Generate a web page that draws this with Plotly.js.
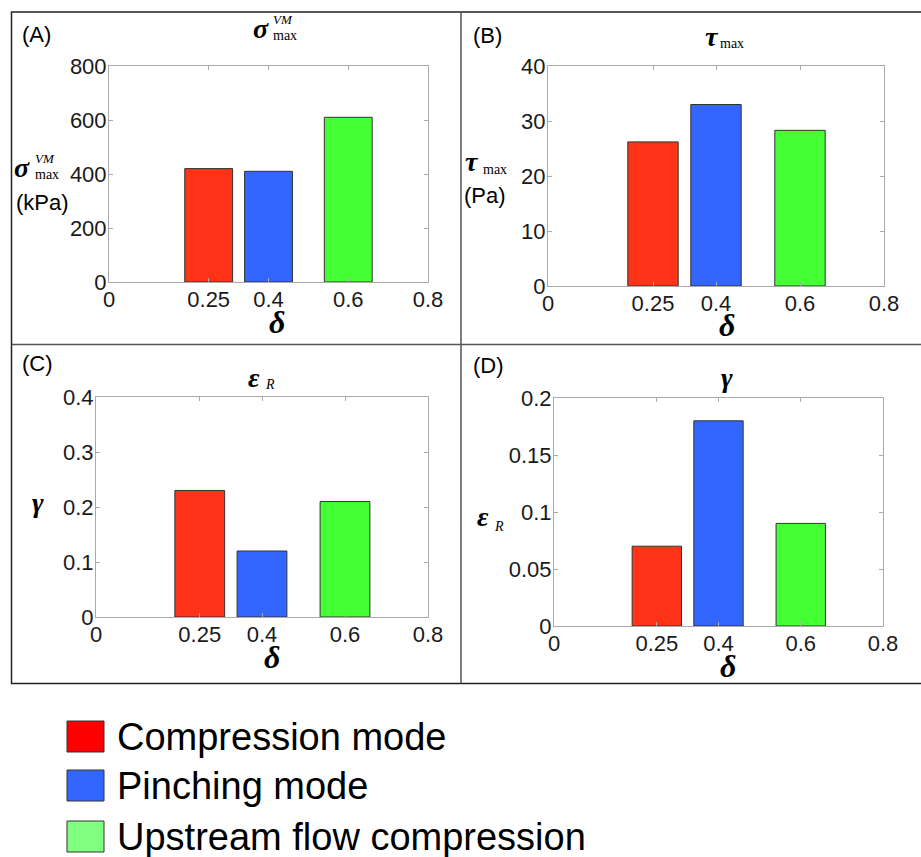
<!DOCTYPE html>
<html>
<head>
<meta charset="utf-8">
<script src="https://cdn.plot.ly/plotly-3.0.1.min.js"></script>
<style>html,body{margin:0;padding:0;background:#fff;}#chart{width:921px;height:857px;}</style>
</head>
<body>
<div id="chart"></div>
<script>
// ---- data ----
const deltaVals = [0.25, 0.4, 0.6];
const seriesNames = ['Compression mode', 'Pinching mode', 'Upstream flow compression'];
const sigmaVM = [420, 410, 610];      // panel A (kPa)
const tauMax = [26.2, 33.0, 28.3];    // panel B (Pa)
const panelC = [0.23, 0.12, 0.21];    // panel C
const panelD = [0.07, 0.18, 0.09];    // panel D
const xTickVals = [0, 0.25, 0.4, 0.6, 0.8];
const xTickText = ['0', '0.25', '0.4', '0.6', '0.8'];
const yTicksA = [0, 200, 400, 600, 800];
const yTicksB = [0, 10, 20, 30, 40];
const yTicksC = [0, 0.1, 0.2, 0.3, 0.4];
const yTicksD = [0, 0.05, 0.1, 0.15, 0.2];
const yTickTextD = ['0', '0.05', '0.1', '0.15', '0.2'];

// ---- styles ----
const barColors = ['#ff3318', '#3366ff', '#44ff33'];
const legendColors = ['#ff0000', '#3366ff', '#80ff80'];
const W = 921, H = 857;
const px = x => x / W;
const py = y => 1 - y / H;
const SANS = 'Liberation Sans, Arial, sans-serif';
const SERIF = 'Liberation Serif, Times New Roman, serif';

const panels = [
  {vals: sigmaVM, xa: 'x',  ya: 'y',  dom: [109, 428, 66, 282],  yt: yTicksA, ytt: null, yr: [0, 800]},
  {vals: tauMax,  xa: 'x2', ya: 'y2', dom: [548, 884, 66, 286],  yt: yTicksB, ytt: null, yr: [0, 40]},
  {vals: panelC,  xa: 'x3', ya: 'y3', dom: [96, 428, 397, 617],  yt: yTicksC, ytt: null, yr: [0, 0.4]},
  {vals: panelD,  xa: 'x4', ya: 'y4', dom: [554, 883, 398, 626], yt: yTicksD, ytt: yTickTextD, yr: [0, 0.2]}
];

const traces = [];
panels.forEach(p => {
  p.vals.forEach((v, i) => {
    traces.push({
      type: 'bar', x: [deltaVals[i]], y: [v], width: [0.12],
      xaxis: p.xa, yaxis: p.ya, name: seriesNames[i],
      marker: {color: barColors[i], line: {color: '#333', width: 1}},
      showlegend: false, hoverinfo: 'skip'
    });
  });
});

const layout = {
  width: W, height: H,
  margin: {l: 0, r: 0, t: 0, b: 0},
  paper_bgcolor: '#fff', plot_bgcolor: '#fff',
  barmode: 'overlay',
  showlegend: false,
  font: {family: SANS, color: '#111'},
  annotations: [],
  shapes: []
};

panels.forEach((p, k) => {
  const sfx = k === 0 ? '' : String(k + 1);
  const common = {
    showline: true, mirror: 'ticks', linecolor: '#aaa', linewidth: 1,
    ticks: 'inside', ticklen: 4, tickcolor: '#aaa', tickwidth: 1,
    showgrid: false, zeroline: false, fixedrange: true,
    tickfont: {family: SANS, size: 22, color: '#1a1a1a'}
  };
  layout['xaxis' + sfx] = Object.assign({}, common, {
    domain: [px(p.dom[0]), px(p.dom[1])], range: [0, 0.8],
    tickvals: xTickVals, ticktext: xTickText, anchor: 'y' + sfx,
    ticklabelstandoff: -2
  });
  layout['yaxis' + sfx] = Object.assign({}, common, {
    domain: [py(p.dom[3]), py(p.dom[2])], range: p.yr,
    tickvals: p.yt, ticktext: p.ytt || p.yt.map(String), anchor: 'x' + sfx,
    ticklabelstandoff: -3
  });
});

function ann(text, x, y, size, family, xanchor, yanchor) {
  layout.annotations.push({
    text: text, x: px(x), y: py(y), xref: 'paper', yref: 'paper',
    xanchor: xanchor || 'center', yanchor: yanchor || 'middle', showarrow: false,
    font: {family: family, size: size, color: '#000'}
  });
}
const G = t => '<b><i>' + t + '</i></b>';

// panel letters
ann('(A)', 20, 34, 22, SANS, 'left');
ann('(B)', 471, 35, 22, SANS, 'left');
ann('(C)', 20, 363, 22, SANS, 'left');
ann('(D)', 471, 365, 22, SANS, 'left');

// Panel A titles
ann(G('σ'), 261, 28, 28, SERIF);
ann('<i>VM</i>', 271, 19, 13, SERIF, 'left');
ann('max', 271, 35, 14, SERIF, 'left');
ann(G('σ'), 22, 167, 28, SERIF);
ann('<i>VM</i>', 33, 158, 13, SERIF, 'left');
ann('max', 33, 174, 14, SERIF, 'left');
ann('(kPa)', 42, 203, 22, SANS);
ann(G('δ'), 277, 322, 32, SERIF);

// Panel B titles
ann(G('τ'), 712, 36, 28, SERIF);
ann('max', 718, 43, 14, SERIF, 'left');
ann(G('τ'), 472, 162, 28, SERIF);
ann('max', 481, 169, 14, SERIF, 'left');
ann('(Pa)', 485, 196, 22, SANS);
ann(G('δ'), 727, 325, 32, SERIF);

// Panel C titles
ann(G('ε'), 254, 377, 28, SERIF);
ann('<i>R</i>', 263, 385, 14, SERIF, 'left');
ann(G('γ'), 38, 502, 28, SERIF);
ann(G('δ'), 272, 657, 32, SERIF);

// Panel D titles
ann(G('γ'), 727, 377, 28, SERIF);
ann(G('ε'), 483, 516, 28, SERIF);
ann('<i>R</i>', 492, 526, 14, SERIF, 'left');
ann(G('δ'), 728, 666, 32, SERIF);

// frame
const lineStyle = {color: '#222', width: 1.5};
layout.shapes.push(
  {type: 'rect', xref: 'paper', yref: 'paper', x0: px(11.5), x1: px(925), y0: py(683.5), y1: py(12), line: lineStyle},
  {type: 'line', xref: 'paper', yref: 'paper', x0: px(461), x1: px(461), y0: py(683.5), y1: py(12), line: {color: '#555', width: 1.5}},
  {type: 'line', xref: 'paper', yref: 'paper', x0: px(11.5), x1: px(925), y0: py(344.5), y1: py(344.5), line: {color: '#555', width: 1.5}}
);

// legend (drawn manually: large swatches)
const legendRows = [736, 785, 836];
seriesNames.forEach((name, i) => {
  const cy = legendRows[i];
  layout.shapes.push({
    type: 'rect', xref: 'paper', yref: 'paper',
    x0: px(67), x1: px(104), y0: py(cy + 16), y1: py(cy - 15),
    fillcolor: legendColors[i], line: {color: '#333', width: 1}
  });
  ann(name, 115, cy + 1, 38, SANS, 'left');
});

Plotly.newPlot('chart', traces, layout, {staticPlot: true, displayModeBar: false});
</script>
</body>
</html>
